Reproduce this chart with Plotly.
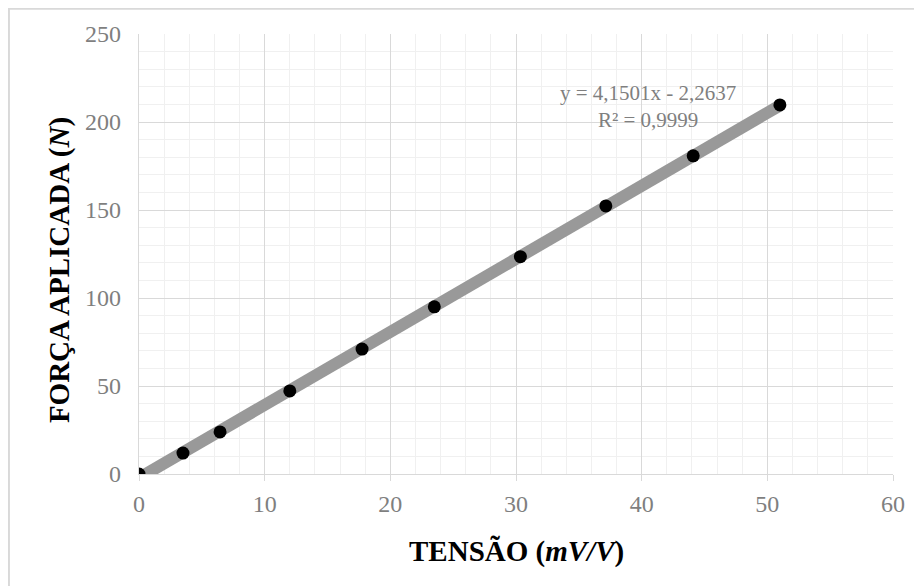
import plotly.graph_objects as go

tensao = [0, 3.5, 6.45, 12.0, 17.75, 23.5, 30.35, 37.15, 44.1, 51.0]
forca = [0, 11.9, 23.9, 47.2, 71.0, 95.0, 123.5, 152.3, 180.8, 209.7]
slope = 4.1501
intercept = -2.2637
eq_text = "y = 4,1501x - 2,2637<br>R² = 0,9999"
x_title = "<b>TENSÃO (<i>mV/V</i>)</b>"
y_title = "<b>FORÇA APLICADA (<i>N</i>)</b>"
x_ticks = [0, 10, 20, 30, 40, 50, 60]
y_ticks = [0, 50, 100, 150, 200, 250]

trend_x = [min(tensao), max(tensao)]
trend_y = [slope * v + intercept for v in trend_x]

FONT = "Liberation Serif, Times New Roman, serif"

fig = go.Figure()
fig.add_trace(go.Scatter(x=trend_x, y=trend_y, mode="lines",
                         line=dict(color="#999999", width=12),
                         hoverinfo="skip", showlegend=False))
fig.add_trace(go.Scatter(x=tensao, y=forca, mode="markers",
                         marker=dict(color="black", size=13),
                         showlegend=False))

fig.add_annotation(x=40.5, y=209, xref="x", yref="y", text=eq_text,
                   showarrow=False, align="center",
                   font=dict(family=FONT, size=21, color="#7f7f7f"))

fig.add_annotation(x=0.5, y=-0.175, xref="paper", yref="paper", text=x_title,
                   showarrow=False, xanchor="center", yanchor="middle",
                   font=dict(family=FONT, size=29, color="black"))
fig.add_annotation(x=-0.106, y=0.4636, xref="paper", yref="paper", text=y_title,
                   showarrow=False, xanchor="center", yanchor="middle", textangle=-90,
                   font=dict(family=FONT, size=29, color="black"))

fig.add_shape(type="rect", xref="paper", yref="paper",
              x0=-0.1725, x1=1.2, y0=-0.4, y1=1.0575,
              line=dict(color="#d9d9d9", width=2), layer="below")

fig.update_xaxes(range=[0, 60], tickvals=x_ticks, showgrid=True,
                 gridcolor="#d9d9d9", gridwidth=1.3,
                 minor=dict(dtick=2, showgrid=True, gridcolor="#f0f0f0", gridwidth=1.3),
                 showline=True, linecolor="#d9d9d9", linewidth=1.3,
                 ticks="outside", ticklen=6, tickcolor="#d9d9d9",
                 ticklabelstandoff=2,
                 tickfont=dict(family=FONT, size=24, color="#7f7f7f"),
                 zeroline=False, automargin=False)
fig.update_yaxes(range=[0, 250], tickvals=y_ticks, showgrid=True,
                 gridcolor="#d9d9d9", gridwidth=1.3,
                 minor=dict(dtick=10, showgrid=True, gridcolor="#f0f0f0", gridwidth=1.3),
                 showline=True, linecolor="#d9d9d9", linewidth=1.3,
                 ticks="", ticklabelstandoff=12,
                 tickfont=dict(family=FONT, size=24, color="#7f7f7f"),
                 zeroline=False, automargin=False)

fig.update_layout(width=922, height=586,
                  margin=dict(l=131, r=37, t=26, b=120),
                  plot_bgcolor="white", paper_bgcolor="white")

fig.write_html("out.html")
